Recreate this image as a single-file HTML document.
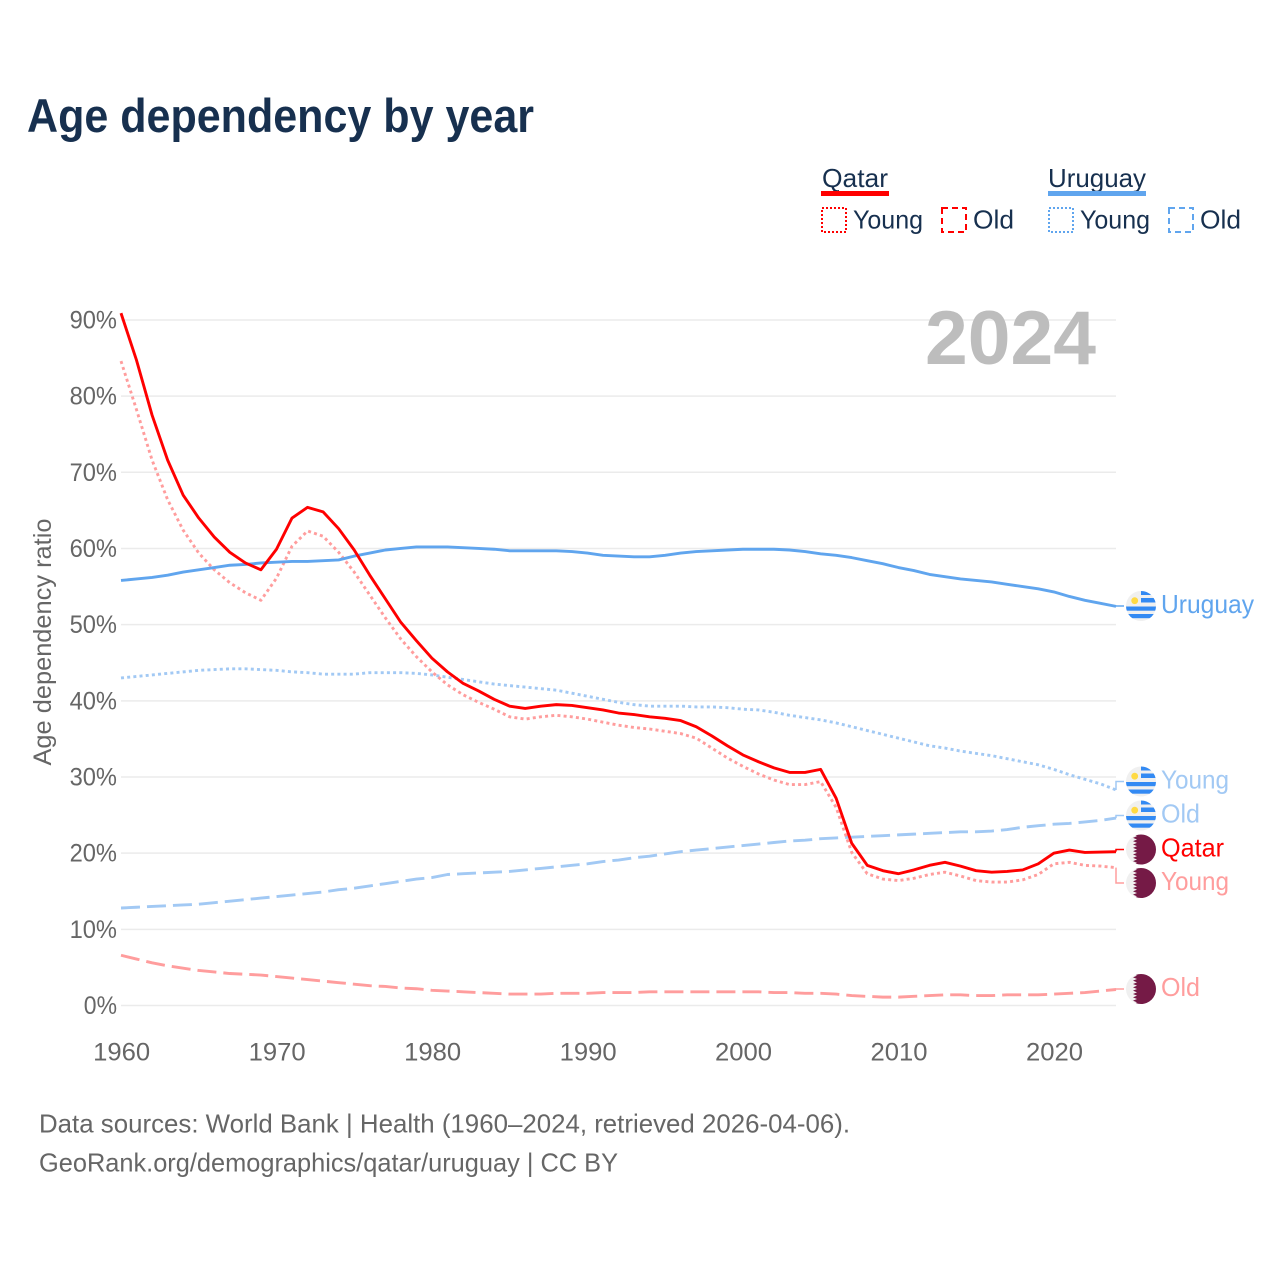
<!DOCTYPE html>
<html lang="en">
<head>
<meta charset="utf-8">
<title>Age dependency by year</title>
<style>
html,body{margin:0;padding:0;background:#fff;}
svg{display:block;font-family:"Liberation Sans",sans-serif;}
</style>
</head>
<body>
<svg id="chart" xmlns="http://www.w3.org/2000/svg" width="1280" height="1280" viewBox="0 0 1280 1280">
  <rect x="0" y="0" width="1280" height="1280" fill="#fff"/>
  <text x="27" y="132" font-size="47" font-weight="700" fill="#17304f" textLength="507" lengthAdjust="spacingAndGlyphs">Age dependency by year</text>

  <g font-size="26" fill="#17304f">
    <text x="822" y="187" textLength="66" lengthAdjust="spacingAndGlyphs">Qatar</text>
    <rect x="821" y="191" width="68" height="5" fill="#ff0000"/>
    <text x="1048" y="187" textLength="98" lengthAdjust="spacingAndGlyphs">Uruguay</text>
    <rect x="1048" y="191" width="98" height="5" fill="#60a5ee"/>
    <rect x="822" y="208" width="24" height="24" fill="none" stroke="#ff0000" stroke-width="2" stroke-dasharray="2 2"/>
    <text x="853" y="228.5" textLength="70" lengthAdjust="spacingAndGlyphs">Young</text>
    <rect x="942" y="208" width="24" height="24" fill="none" stroke="#ff0000" stroke-width="2" stroke-dasharray="6 4"/>
    <text x="973" y="228.5" textLength="41" lengthAdjust="spacingAndGlyphs">Old</text>
    <rect x="1049" y="208" width="24" height="24" fill="none" stroke="#60a5ee" stroke-width="2" stroke-dasharray="2 2"/>
    <text x="1080" y="228.5" textLength="70" lengthAdjust="spacingAndGlyphs">Young</text>
    <rect x="1169" y="208" width="24" height="24" fill="none" stroke="#60a5ee" stroke-width="2" stroke-dasharray="6 4"/>
    <text x="1200" y="228.5" textLength="41" lengthAdjust="spacingAndGlyphs">Old</text>
  </g>

  <g id="grid"></g>
  <g id="yticks"></g>
  <g id="xticks"></g>

  <text x="925" y="364" font-size="76" font-weight="700" fill="#bdbdbd" textLength="171" lengthAdjust="spacingAndGlyphs">2024</text>
  <text transform="translate(51 642) rotate(-90)" text-anchor="middle" font-size="25" fill="#666" textLength="247" lengthAdjust="spacingAndGlyphs">Age dependency ratio</text>

  <g id="series"></g>
  <g id="endlabels"></g>

  <text x="39" y="1132.5" font-size="26" fill="#666" textLength="811" lengthAdjust="spacingAndGlyphs">Data sources: World Bank | Health (1960–2024, retrieved 2026-04-06).</text>
  <text x="39" y="1171.5" font-size="26" fill="#666" textLength="579" lengthAdjust="spacingAndGlyphs">GeoRank.org/demographics/qatar/uruguay | CC BY</text>
</svg>
<script>
const startYear = 1960;
const yTickValues = [0, 10, 20, 30, 40, 50, 60, 70, 80, 90];
const xTickValues = [1960, 1970, 1980, 1990, 2000, 2010, 2020];

const qatarTotal = [90.9,84.7,77.5,71.6,67.0,64.0,61.5,59.5,58.1,57.2,59.9,64.0,65.4,64.8,62.6,59.8,56.5,53.4,50.3,47.9,45.6,43.8,42.3,41.3,40.2,39.3,39.0,39.3,39.5,39.4,39.1,38.8,38.4,38.2,37.9,37.7,37.4,36.6,35.4,34.1,32.9,32.0,31.2,30.6,30.6,31.0,27.2,21.3,18.4,17.7,17.3,17.8,18.4,18.8,18.3,17.7,17.5,17.6,17.8,18.6,20.0,20.4,20.1,20.15,20.2];
const qatarYoung = [84.6,78.2,71.6,66.4,62.4,59.4,57.2,55.5,54.2,53.2,56.1,60.3,62.3,61.6,59.5,56.9,53.9,50.9,48.1,45.8,43.8,42.1,40.8,39.8,38.9,37.9,37.6,37.9,38.1,37.9,37.6,37.2,36.8,36.5,36.3,36.0,35.7,35.1,33.8,32.5,31.4,30.4,29.6,29.0,29.0,29.4,26.0,20.1,17.3,16.6,16.4,16.7,17.2,17.5,17.0,16.4,16.2,16.2,16.5,17.2,18.6,18.8,18.4,18.3,18.1];
const qatarOld = [6.6,6.1,5.6,5.2,4.9,4.6,4.4,4.2,4.1,4.0,3.8,3.6,3.4,3.2,3.0,2.8,2.6,2.5,2.3,2.2,2.0,1.9,1.8,1.7,1.6,1.5,1.5,1.5,1.6,1.6,1.6,1.7,1.7,1.7,1.8,1.8,1.8,1.8,1.8,1.8,1.8,1.8,1.7,1.7,1.6,1.6,1.5,1.3,1.2,1.1,1.1,1.2,1.3,1.4,1.4,1.3,1.3,1.4,1.4,1.4,1.5,1.6,1.7,1.9,2.1];
const uruguayTotal = [55.8,56.0,56.2,56.5,56.9,57.2,57.5,57.8,57.9,58.1,58.2,58.3,58.3,58.4,58.5,59.0,59.4,59.8,60.0,60.2,60.2,60.2,60.1,60.0,59.9,59.7,59.7,59.7,59.7,59.6,59.4,59.1,59.0,58.9,58.9,59.1,59.4,59.6,59.7,59.8,59.9,59.9,59.9,59.8,59.6,59.3,59.1,58.8,58.4,58.0,57.5,57.1,56.6,56.3,56.0,55.8,55.6,55.3,55.0,54.7,54.3,53.7,53.2,52.8,52.4];
const uruguayYoung = [43.0,43.2,43.4,43.6,43.8,44.0,44.1,44.2,44.2,44.1,44.0,43.8,43.7,43.5,43.5,43.5,43.7,43.7,43.7,43.6,43.4,43.1,42.8,42.5,42.2,42.0,41.8,41.6,41.4,41.0,40.6,40.2,39.8,39.5,39.3,39.3,39.3,39.2,39.2,39.1,38.9,38.8,38.5,38.1,37.8,37.5,37.1,36.6,36.1,35.6,35.1,34.6,34.1,33.8,33.4,33.1,32.8,32.4,32.0,31.6,31.0,30.3,29.7,29.1,28.3];
const uruguayOld = [12.8,12.9,13.0,13.1,13.2,13.3,13.5,13.7,13.9,14.1,14.3,14.5,14.7,14.9,15.2,15.4,15.7,16.0,16.3,16.6,16.8,17.2,17.3,17.4,17.5,17.6,17.8,18.0,18.2,18.4,18.6,18.9,19.1,19.4,19.6,19.9,20.2,20.4,20.6,20.8,21.0,21.2,21.4,21.6,21.7,21.9,22.0,22.1,22.2,22.3,22.4,22.5,22.6,22.7,22.8,22.8,22.9,23.1,23.4,23.6,23.8,23.9,24.1,24.3,24.6];

const SVG_NS = 'http://www.w3.org/2000/svg';
function xScale(year) { return 121 + (year - 1960) * (995 / 64); }
function yScale(v) { return 1005.5 - v * 7.617; }
function make(tag, parent, attrs) {
  const node = document.createElementNS(SVG_NS, tag);
  for (const k in attrs) node.setAttribute(k, attrs[k]);
  parent.appendChild(node);
  return node;
}

const grid = document.getElementById('grid');
const yticks = document.getElementById('yticks');
const xticks = document.getElementById('xticks');
yTickValues.forEach(function (v) {
  const line = make('line', grid, {x1: 121, x2: 1116, y1: yScale(v), y2: yScale(v), stroke: '#ebebeb', 'stroke-width': 1.5});
  
  
  const label = v + '%';
  const t = make('text', yticks, {x: 117, y: yScale(v) + 8.5, 'text-anchor': 'end', 'font-size': 25, fill: '#666', textLength: (label.length - 1) * 14.2 + 19, lengthAdjust: 'spacingAndGlyphs'});
  t.textContent = label;
  
  
});
xTickValues.forEach(function (yr) {
  const t = make('text', xticks, {x: xScale(yr) + 0.7, y: 1060.5, 'text-anchor': 'middle', 'font-size': 25, fill: '#666', textLength: 57, lengthAdjust: 'spacingAndGlyphs'});
  t.textContent = yr;
  
  
});

const seriesGroup = document.getElementById('series');
function drawLine(values, name, color, dash) {
  const pts = values.map(function (v, i) { return xScale(startYear + i).toFixed(2) + ',' + yScale(v).toFixed(2); }).join(' ');
  const attrs = {points: pts, fill: 'none', stroke: color, 'stroke-width': 2.9, 'stroke-linejoin': 'round'};
  if (dash) attrs['stroke-dasharray'] = dash;
  const p = make('polyline', seriesGroup, attrs);
  
  
}
const QATAR = '#ff0000', QATAR_LIGHT = '#ff9d9d', URU = '#60a5ee', URU_LIGHT = '#a2c9f4';
const DOT = '3 3.2', DASH = '19 7';
drawLine(uruguayOld, 'line-uruguay-old', URU_LIGHT, DASH);
drawLine(uruguayYoung, 'line-uruguay-young', URU_LIGHT, DOT);
drawLine(qatarOld, 'line-qatar-old', QATAR_LIGHT, DASH);
drawLine(qatarYoung, 'line-qatar-young', QATAR_LIGHT, DOT);
drawLine(uruguayTotal, 'line-uruguay-total', URU, null);
drawLine(qatarTotal, 'line-qatar-total', QATAR, null);

const endGroup = document.getElementById('endlabels');
function uruguayFlag(parent, cx, cy) {
  const id = 'clip-' + Math.round(cy);
  const defs = make('defs', parent, {});
  const cp = make('clipPath', defs, {id: id});
  make('circle', cp, {cx: cx, cy: cy, r: 15});
  const g = make('g', parent, {'clip-path': 'url(#' + id + ')'});
  make('rect', g, {x: cx - 15, y: cy - 15, width: 30, height: 30, fill: '#f0f0f0'});
  make('rect', g, {x: cx, y: cy - 15, width: 15, height: 4, fill: '#338af3'});
  make('rect', g, {x: cx, y: cy - 8, width: 15, height: 4.5, fill: '#338af3'});
  make('rect', g, {x: cx - 15, y: cy + 0.5, width: 30, height: 4.2, fill: '#338af3'});
  make('rect', g, {x: cx - 15, y: cy + 8, width: 30, height: 4.2, fill: '#338af3'});
  make('circle', g, {cx: cx - 6.3, cy: cy - 5.3, r: 3.4, fill: '#ffda44'});
}
function qatarFlag(parent, cx, cy) {
  const id = 'clip-' + Math.round(cy);
  const defs = make('defs', parent, {});
  const cp = make('clipPath', defs, {id: id});
  make('circle', cp, {cx: cx, cy: cy, r: 15});
  const g = make('g', parent, {'clip-path': 'url(#' + id + ')'});
  make('rect', g, {x: cx - 15, y: cy - 15, width: 30, height: 30, fill: '#f0f0f0'});
  const zig = [(cx + 15) + ',' + (cy - 15), (cx - 8) + ',' + (cy - 15)];
  for (let i = 0; i < 9; i++) {
    zig.push((cx - 4) + ',' + (cy - 15 + (i + 0.5) * 30 / 9));
    zig.push((cx - 8) + ',' + (cy - 15 + (i + 1) * 30 / 9));
  }
  zig.push((cx + 15) + ',' + (cy + 15));
  make('polygon', g, {points: zig.join(' '), fill: '#751a46'});
}
function endLabel(values, name, text, color, labelY, flag) {
  const yEnd = yScale(values[values.length - 1]);
  const conn = make('polyline', endGroup, {points: '1116,' + yEnd.toFixed(2) + ' 1116,' + labelY + ' 1124,' + labelY, fill: 'none', stroke: color, 'stroke-width': 1.5});
  
  
  const g = make('g', endGroup, {});
  
  
  flag(g, 1141, labelY);
  const t = make('text', endGroup, {x: 1161, y: labelY + 7, 'font-size': 26, fill: color});
  t.textContent = text;
  t.setAttribute('textLength', text === 'Uruguay' ? 93 : text === 'Qatar' ? 63 : text === 'Young' ? 68 : 39);
  t.setAttribute('lengthAdjust', 'spacingAndGlyphs');
  
  
}
endLabel(uruguayTotal, 'uruguay-total', 'Uruguay', URU, 606, uruguayFlag);
endLabel(uruguayYoung, 'uruguay-young', 'Young', URU_LIGHT, 781.5, uruguayFlag);
endLabel(uruguayOld, 'uruguay-old', 'Old', URU_LIGHT, 815.5, uruguayFlag);
endLabel(qatarTotal, 'qatar-total', 'Qatar', QATAR, 849.5, qatarFlag);
endLabel(qatarYoung, 'qatar-young', 'Young', QATAR_LIGHT, 883, qatarFlag);
endLabel(qatarOld, 'qatar-old', 'Old', QATAR_LIGHT, 989, qatarFlag);
</script>
</body>
</html>
